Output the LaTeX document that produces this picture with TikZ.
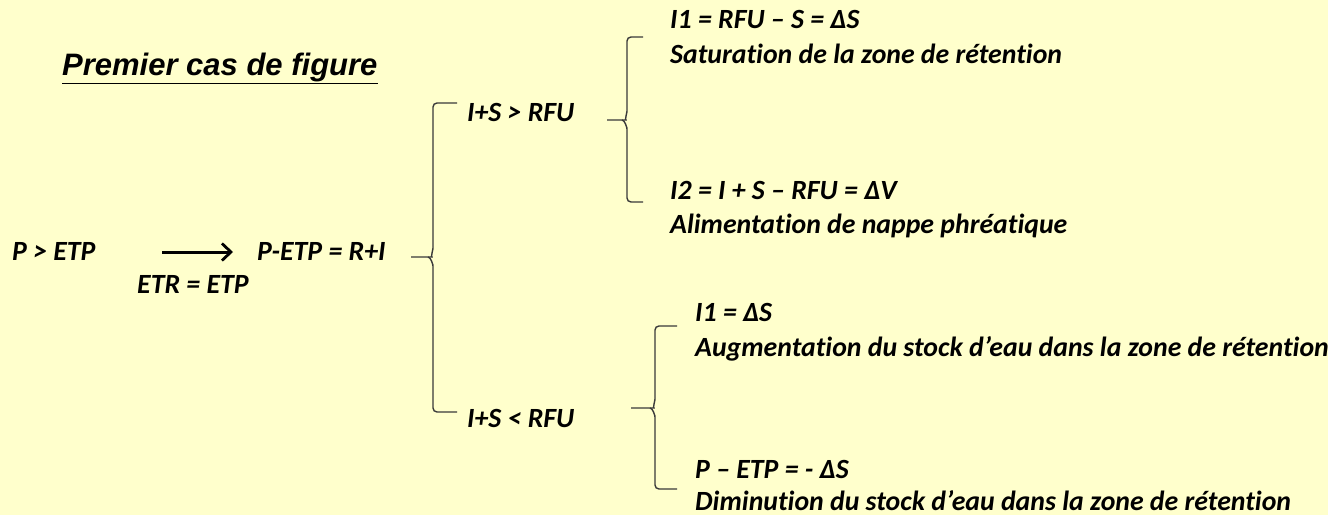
\documentclass[tikz,border=0pt]{standalone}
\usepackage{fontspec}
\setmainfont{Carlito}[Ligatures={NoCommon,NoRare,NoContextual}]
\newfontfamily\titlefont{Liberation Sans}
\usetikzlibrary{arrows.meta}
\definecolor{bg}{HTML}{FFFFCC}
\definecolor{brk}{HTML}{3A3A3A}
\begin{document}
\begin{tikzpicture}[x=1pt,y=-1pt,
  txt/.style={anchor=base west,inner sep=0pt,font=\fontsize{27.8}{30}\selectfont\bfseries\itshape},
  brack/.style={draw=brk,line width=1.4pt,rounded corners=4pt},
  arr/.style={line width=3pt,-{Straight Barb[length=9pt,width=17pt,line width=2.8pt]}}]
\fill[bg] (0,0) rectangle (1328,515);
\useasboundingbox (0,0) rectangle (1328,515);
% title
\node[anchor=base west,inner sep=0pt,font=\titlefont\fontsize{31}{33}\selectfont\bfseries\itshape] (title) at (62,75) {\underline{Premier cas de figure}};
% left part
\node[txt] (p) at (12,260) {P > ETP};
\node[txt] (petp) at (257,260) {P-ETP = R+I};
\node[txt] (etr) at (137,293) {ETR = ETP};
\coordinate (a1) at (162,252);
\coordinate (a2) at (233,252);
\draw[arr] (a1) -- (a2);
% level 1
\node[txt] (gt) at (467,121) {I+S > RFU};
\node[txt] (lt) at (467,427) {I+S < RFU};
% level 2 upper
\node[txt] (i1a) at (670,28) {I1 = RFU – S = ΔS};
\node[txt] (sat) at (670,63) {Saturation de la zone de rétention};
\node[txt] (i2) at (670,199) {I2 = I + S – RFU = ΔV};
\node[txt] (ali) at (670,233) {Alimentation de nappe phréatique};
% level 2 lower
\node[txt] (i1b) at (695,321) {I1 = ΔS};
\node[txt] (aug) at (695,356) {Augmentation du stock d’eau dans la zone de rétention};
\node[txt] (pe) at (695,478) {P – ETP = - ΔS};
\node[txt] (dim) at (695,510) {Diminution du stock d’eau dans la zone de rétention};
% brackets: #1 vx, #2 top, #3 mid, #4 bottom, #5 hook end x, #6 tick left x
\newcommand{\mybrace}[6]{%
  \draw[brack] (#5,#2) -- (#1,#2) -- (#1,#3-5) to[out=90,in=0] (#1-5,#3) -- (#6,#3);
  \draw[brack] (#1-5,#3) to[out=0,in=-90] (#1,#3+5) -- (#1,#4) -- (#5,#4);}
\mybrace{433}{103}{257}{412}{457}{411}
\mybrace{627}{37}{120}{202}{643}{607}
\mybrace{655}{326}{408}{489}{677}{631}
\end{tikzpicture}
\end{document}
